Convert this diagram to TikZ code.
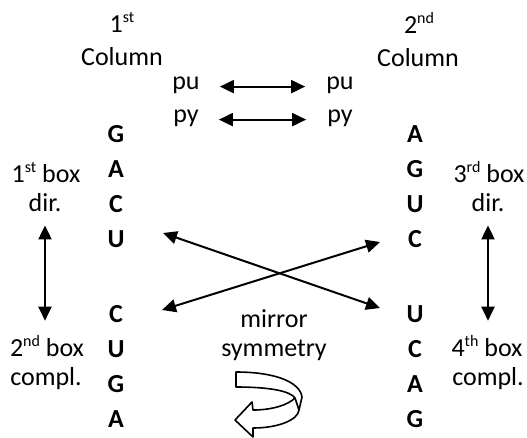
\documentclass[tikz,border=0pt]{standalone}
\usepackage{fontspec}
\setmainfont{Carlito}
\usetikzlibrary{arrows.meta}
\newcommand\mysup[1]{\raisebox{10pt}{\fontsize{16}{16}\selectfont #1}}
\tikzset{
  lab/.style={font=\fontsize{26}{28}\selectfont, inner sep=0pt, anchor=base},
  let/.style={font=\fontsize{26}{28}\selectfont\bfseries, inner sep=0pt, anchor=base},
  arr/.style={line width=2pt, {Triangle[length=14pt,width=13pt]}-{Triangle[length=14pt,width=13pt]}},
  rib/.style={line width=1.6pt, line join=round, fill=white}
}
\begin{document}
\begin{tikzpicture}[x=1pt,y=-1pt]
\useasboundingbox (0,0) rectangle (527,437);
% headers
\node[lab] (h1a) at (122,32) {1\mysup{st}};
\node[lab] (h1b) at (122,65) {Column};
\node[lab] (h2a) at (419,33) {2\mysup{nd}};
\node[lab] (h2b) at (418,66) {Column};
% pu / py
\node[lab] (pu1) at (186,89) {pu};
\node[lab] (py1) at (186,122) {py};
\node[lab] (pu2) at (340,89) {pu};
\node[lab] (py2) at (340,122) {py};
\draw[arr, shorten <=20pt, shorten >=21pt] (pu1.mid east) -- (pu2.mid west);
\draw[arr, shorten <=20pt, shorten >=21pt] (py1.mid east) -- (py2.mid west);
% left letters
\node[let] (L1) at (116,142) {G};
\node[let] (L2) at (116,177) {A};
\node[let] (L3) at (116,212) {C};
\node[let] (L4) at (116,247) {U};
\node[let] (L5) at (116,322) {C};
\node[let] (L6) at (116,357) {U};
\node[let] (L7) at (116,392) {G};
\node[let] (L8) at (116,427) {A};
% right letters
\node[let] (R1) at (415,142) {A};
\node[let] (R2) at (415,177) {G};
\node[let] (R3) at (415,212) {U};
\node[let] (R4) at (415,247) {C};
\node[let] (R5) at (415,322) {U};
\node[let] (R6) at (415,357) {C};
\node[let] (R7) at (415,392) {A};
\node[let] (R8) at (415,427) {G};
% side labels
\node[lab] (b1a) at (46,182) {1\mysup{st} box};
\node[lab] (b1b) at (45,211) {dir.};
\node[lab] (b2a) at (47,356) {2\mysup{nd} box};
\node[lab] (b2b) at (46,385) {compl.};
\node[lab] (b3a) at (489,182) {3\mysup{rd} box};
\node[lab] (b3b) at (488,211) {dir.};
\node[lab] (b4a) at (487,356) {4\mysup{th} box};
\node[lab] (b4b) at (488,385) {compl.};
\draw[arr, shorten <=14pt, shorten >=14pt] (b1b.south) -- (b1b.south |- b2a.north);
\draw[arr, shorten <=14pt, shorten >=14pt] (b3b.south) -- (b3b.south |- b4a.north);
% cross arrows
\coordinate (cUL) at (163,233);
\coordinate (cUR) at (380,308);
\coordinate (cCR) at (380,242);
\coordinate (cCL) at (162,310);
\draw[arr] (cUL) -- (cUR);
\draw[arr] (cCR) -- (cCL);
% mirror symmetry
\node[lab] (m1) at (274,327) {mirror};
\node[lab] (m2) at (274,356) {symmetry};
% ribbon arrow
\draw[rib] (236,372) -- (236,387) .. controls (270,387) and (290,391) .. (295,398)
  .. controls (288,405) and (272,410) .. (253,410) -- (252,402) -- (235,420) -- (253,437) -- (253,428)
  .. controls (278,428) and (298,420) .. (299,410) -- (302,397)
  .. controls (300,382) and (275,372) .. (236,372) -- cycle;
\draw[rib] (295,398) -- (299,410);
\end{tikzpicture}
\end{document}
